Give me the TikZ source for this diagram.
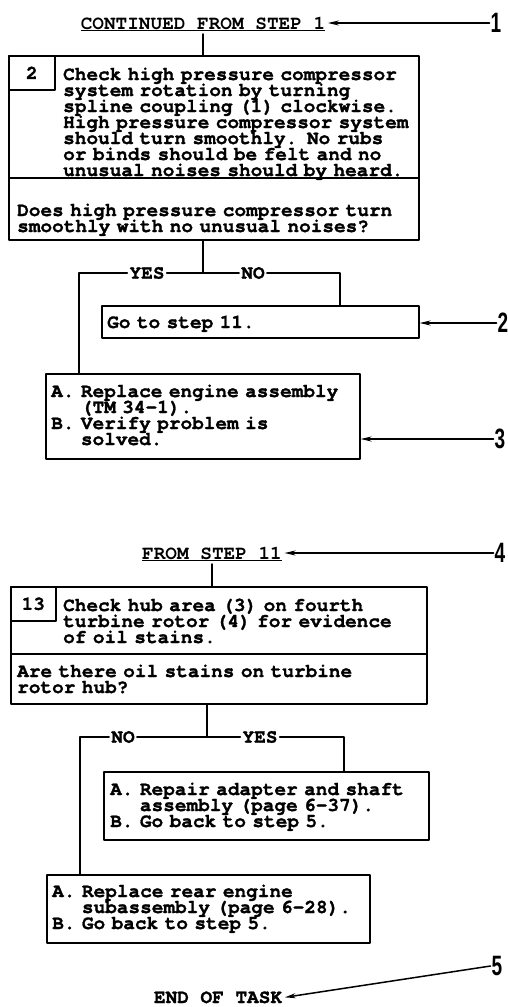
\documentclass[tikz,border=0pt]{standalone}
\usepackage{fontspec}
\setmainfont{texgyrecursor-regular.otf}[BoldFont=texgyrecursor-bold.otf,
  BoldFeatures={FakeBold=1.4}]
\newfontfamily\hdfamily{texgyrecursor-bold.otf}
\newfontfamily\tagfont{Liberation Sans}[FakeStretch=0.68]
\usetikzlibrary{arrows.meta}

\newcommand\boxfont{\fontsize{19.4}{16}\selectfont\bfseries\lineskiplimit=-\maxdimen}
\newcommand\hdfont{\hdfamily\fontsize{19.4}{16}\selectfont}
\newcommand\ind{\phantom{A.\ }}

\begin{document}
\begin{tikzpicture}[x=1pt,y=-1pt,line cap=round,line join=round,
  frame/.style={draw,line width=1.6pt,inner sep=0pt,anchor=north west},
  numbox/.style={frame,minimum width=46pt,minimum height=34pt,font=\boxfont},
  body/.style={inner sep=0pt,anchor=base west,align=left,text width=420pt,font=\boxfont},
  head/.style={inner sep=2.5pt,anchor=base,font=\hdfont},
  ans/.style={inner sep=2pt,font=\boxfont},
  link/.style={line width=1.3pt},
  callout/.style={line width=1.5pt,-{Stealth[length=11pt,width=5pt]}},
  tag/.style={inner sep=1pt,font=\tagfont\bfseries\fontsize{28}{28}\selectfont}]
  \useasboundingbox (0,0) rectangle (507,1007);

  % ---- first part: step 2 ----
  \node[head] (head1) at (203,29) {\underline{CONTINUED FROM STEP 1}};
  \node[frame,minimum width=410pt,minimum height=122pt] (s2) at (8,55) {};
  \node[numbox] (n2) at (8,55) {2};
  \node[body] (s2t) at (63,80) {Check high pressure compressor\\
    system rotation by turning\\
    spline coupling (1) clockwise.\\
    High pressure compressor system\\
    should turn smoothly. No rubs\\
    or binds should be felt and no\\
    unusual noises should by heard.};
  \node[frame,minimum width=410pt,minimum height=62pt] (q1) at (8,177) {};
  \node[body] (q1t) at (17,216) {Does high pressure compressor turn\\
    smoothly with no unusual noises?};
  \draw[link] (head1) -- (head1 |- s2.north);

  % answers
  \node[frame,minimum width=317pt,minimum height=32pt] (g11) at (101,305) {};
  \node[body] (g11t) at (107,328) {Go to step 11.};
  \node[frame,minimum width=314pt,minimum height=85pt] (r3) at (45,373) {};
  \node[body] (r3t) at (51,397) {A. Replace engine assembly\\
    \ind(TM 34-1).\\
    B. Verify problem is\\
    \ind solved.};

  % yes / no branch
  \coordinate (j1) at (203,273);
  \coordinate (l1) at (79,273);
  \coordinate (r1) at (340,273);
  \node[ans] (yes1) at (147,273) {YES};
  \node[ans] (no1) at (253,273) {NO};
  \draw[link] (j1 |- q1.south) -- (j1);
  \draw[link] (r3.north -| l1) -- (l1) -- (yes1) (yes1) -- (no1)
    (no1) -- (r1) -- (r1 |- g11.north);

  % ---- second part: step 13 ----
  \node[head] (head2) at (212,559) {\underline{FROM STEP 11}};
  \node[frame,minimum width=416pt,minimum height=67pt] (s13) at (10,586) {};
  \node[numbox,minimum width=45pt] (n13) at (10,586) {13};
  \node[body] (s13t) at (63,611) {Check hub area (3) on fourth\\
    turbine rotor (4) for evidence\\
    of oil stains.};
  \node[frame,minimum width=416pt,minimum height=50pt] (q2) at (10,653) {};
  \node[body] (q2t) at (17,677) {Are there oil stains on turbine\\
    rotor hub?};
  \draw[link] (head2) -- (head2 |- s13.north);

  % answers
  \node[frame,minimum width=325pt,minimum height=68pt] (a5) at (103,771) {};
  \node[body] (a5t) at (110,795) {A. Repair adapter and shaft\\
    \ind assembly (page 6-37).\\
    B. Go back to step 5.};
  \node[frame,minimum width=323pt,minimum height=68pt] (a6) at (46,874) {};
  \node[body] (a6t) at (52,897) {A. Replace rear engine\\
    \ind subassembly (page 6-28).\\
    B. Go back to step 5.};

  % no / yes branch
  \coordinate (j2) at (207,737);
  \coordinate (l2) at (80,737);
  \coordinate (r2) at (344,737);
  \node[ans] (no2) at (123,737) {NO};
  \node[ans] (yes2) at (260,737) {YES};
  \draw[link] (j2 |- q2.south) -- (j2);
  \draw[link] (a6.north -| l2) -- (l2) -- (no2) (no2) -- (yes2)
    (yes2) -- (r2) -- (r2 |- a5.north);

  \node[head,font=\boxfont] (endt) at (218,1003) {END OF TASK};

  % ---- callouts ----
  \node[tag] (c1) at (496,23) {1};
  \node[tag] (c2) at (503,323) {2};
  \node[tag] (c3) at (500,439) {3};
  \node[tag] (c4) at (500,553) {4};
  \node[tag] (c5) at (497,966) {5};
  \draw[callout] (c1.west) -- (c1.west -| head1.east);
  \draw[callout] (c2.west) -- (c2.west -| g11.east);
  \draw[callout] (c3.west) -- (c3.west -| r3.east);
  \draw[callout] (c4.west) -- (c4.west -| head2.east);
  \draw[callout] (c5.west) -- (endt.east);
\end{tikzpicture}
\end{document}
